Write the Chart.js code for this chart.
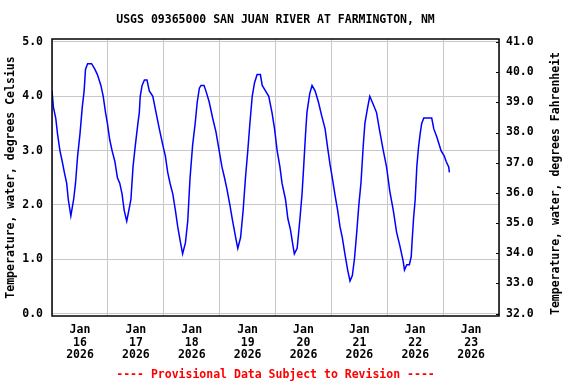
<!DOCTYPE html>
<html>
<head>
<meta charset="utf-8">
<script src="https://cdn.jsdelivr.net/npm/chart.js@4/dist/chart.umd.min.js"></script>
<style>
  html, body { margin: 0; padding: 0; background: #ffffff; }
  #wrap { width: 576px; height: 384px; }
</style>
</head>
<body>
<div id="wrap"><canvas id="tempChart" width="576" height="384"></canvas></div>
<script>
// Hours since Jan 16 2026 00:00 and water temperature (deg C)
const hours = [0.0,0.6,1.6,2.4,3.4,4.4,5.3,6.3,7.0,8.1,
  9.3,10.1,11.0,12.0,13.0,13.8,14.4,15.3,17.0,18.4,
  19.5,21.0,22.0,23.0,23.8,24.8,25.8,27.0,28.1,29.1,
  30.1,31.0,32.1,33.0,33.9,34.8,35.8,36.9,37.5,37.9,
  38.7,39.7,40.8,41.8,43.3,44.7,46.1,47.6,48.7,49.7,
  50.7,51.9,53.0,54.0,55.0,56.1,57.3,58.3,59.3,60.4,
  61.5,62.4,63.3,64.0,65.3,66.1,67.5,69.0,70.4,71.8,
  73.0,74.1,75.1,76.4,77.4,78.9,79.8,81.0,82.1,83.1,
  84.1,85.0,86.0,87.0,88.1,89.5,90.3,91.7,93.1,94.5,
  95.6,96.7,97.9,98.8,100.3,101.3,102.4,103.5,104.1,105.3,
  106.4,107.4,108.1,108.9,109.5,110.7,111.7,112.1,113.0,114.4,
  115.8,117.3,118.4,119.4,120.4,121.5,122.7,123.7,124.7,125.8,
  127.0,128.0,129.0,129.9,130.9,131.8,132.7,133.7,134.4,135.6,
  136.5,138.0,139.4,140.8,142.3,143.7,145.1,146.6,148.0,149.4,
  150.9,151.4,152.4,153.5,154.3,154.7,155.3,156.0,156.7,157.4,
  158.1,158.8,159.7,163.1,164.0,165.3,166.4,167.1,168.5,169.3,
  170.4,170.7];
const tempC = [4.1,3.8,3.6,3.3,3.0,2.8,2.6,2.4,2.1,1.8,
  2.1,2.4,2.9,3.3,3.8,4.1,4.5,4.6,4.6,4.5,
  4.4,4.2,4.0,3.7,3.5,3.2,3.0,2.8,2.5,2.4,
  2.2,1.9,1.7,1.9,2.1,2.7,3.1,3.5,3.7,4.0,
  4.2,4.3,4.3,4.1,4.0,3.7,3.4,3.1,2.9,2.6,
  2.4,2.2,1.9,1.6,1.35,1.1,1.3,1.7,2.5,3.1,
  3.5,3.9,4.15,4.2,4.2,4.1,3.9,3.6,3.35,3.0,
  2.7,2.5,2.3,2.0,1.75,1.4,1.2,1.4,1.9,2.5,
  3.0,3.5,4.0,4.25,4.4,4.4,4.2,4.1,4.0,3.7,
  3.4,3.0,2.7,2.4,2.1,1.75,1.55,1.25,1.1,1.2,
  1.7,2.2,2.7,3.3,3.7,4.05,4.2,4.2,4.1,3.9,
  3.65,3.4,3.05,2.75,2.5,2.2,1.9,1.6,1.4,1.1,
  0.8,0.6,0.7,1.0,1.5,2.0,2.4,3.1,3.5,3.8,
  4.0,3.85,3.7,3.35,3.0,2.7,2.25,1.9,1.5,1.25,
  0.95,0.8,0.9,0.9,1.05,1.35,1.75,2.1,2.7,3.05,
  3.3,3.5,3.6,3.6,3.4,3.25,3.1,3.0,2.9,2.8,
  2.7,2.6];

// Axis ticks
const dayTicks = [0, 24, 48, 72, 96, 120, 144, 168, 192]; // midnight gridlines
const dayLabels = ["16", "17", "18", "19", "20", "21", "22", "23"];
const celsiusTicks = [0, 1, 2, 3, 4, 5];
const fahrenheitTicks = [32, 33, 34, 35, 36, 37, 38, 39, 40, 41];

const titleText = "USGS 09365000 SAN JUAN RIVER AT FARMINGTON, NM";
const footerText = "---- Provisional Data Subject to Revision ----";
const rightTitle = "Temperature, water, degrees Fahrenheit";

const FONT = "'DejaVu Sans Mono', 'Liberation Mono', monospace";
const GRID = "#c8c8c8";

// small padding so the 0 and 5 gridlines sit just inside the frame
const cMin = -0.045;
const cMax = 5.055;

// frame, inward F ticks, right axis title (reads upward), title and footer
const usgsDecor = {
  id: "usgsDecor",
  afterDraw(chart) {
    const { ctx, chartArea: a } = chart;
    const y2 = chart.scales.y2;
    ctx.save();
    ctx.strokeStyle = "#000000";
    ctx.lineWidth = 1.5;
    ctx.strokeRect(a.left, a.top, a.right - a.left, a.bottom - a.top);
    ctx.lineWidth = 1;
    fahrenheitTicks.forEach((f) => {
      const py = Math.round(y2.getPixelForValue(f)) + 0.5;
      ctx.beginPath();
      ctx.moveTo(a.right - 3, py);
      ctx.lineTo(a.right, py);
      ctx.stroke();
    });
    const cx = (a.left + a.right) / 2;
    ctx.font = "bold 11.5px " + FONT;
    ctx.textAlign = "center";
    ctx.textBaseline = "middle";
    ctx.fillStyle = "#000000";
    ctx.fillText(titleText, cx, 20);

    ctx.save();
    ctx.translate(556, (a.top + a.bottom) / 2 + 6);
    ctx.rotate(-Math.PI / 2);
    ctx.fillText(rightTitle, 0, 0);
    ctx.restore();

    ctx.fillStyle = "#ff0000";
    ctx.fillText(footerText, cx, 375);
    ctx.restore();
  },
};

const ctx = document.getElementById("tempChart").getContext("2d");
new Chart(ctx, {
  type: "line",
  data: {
    datasets: [{
      data: hours.map((h, i) => ({ x: h, y: tempC[i] })),
      borderColor: "#0000ff",
      borderWidth: 1.5,
      pointRadius: 0,
      tension: 0,
      fill: false,
      yAxisID: "y",
    }],
  },
  options: {
    responsive: false,
    animation: false,
    layout: { padding: { top: 39, left: 0, right: 9, bottom: 0 } },
    plugins: {
      legend: { display: false },
      tooltip: { enabled: false },
      title: { display: false },
    },
    scales: {
      x: {
        type: "linear",
        min: 0,
        max: 192,
        afterBuildTicks: (s) => { s.ticks = dayTicks.map((v) => ({ value: v })); },
        afterFit: (s) => { s.height = 68; },
        grid: { color: GRID, drawTicks: false },
        border: { display: false },
        ticks: {
          autoSkip: false,
          maxRotation: 0,
          padding: 8,
          labelOffset: 28,
          color: "#000000",
          font: { family: FONT, size: 11.5, weight: "bold", lineHeight: 1.08 },
          callback: (v, i) => (i < dayLabels.length ? ["Jan", dayLabels[i], "2026"] : ""),
        },
      },
      y: {
        position: "left",
        min: cMin,
        max: cMax,
        afterBuildTicks: (s) => { s.ticks = celsiusTicks.map((v) => ({ value: v })); },
        afterFit: (s) => { s.width = 52; },
        grid: { color: GRID, drawTicks: false },
        border: { display: false },
        ticks: {
          padding: 9,
          color: "#000000",
          font: { family: FONT, size: 11.5, weight: "bold" },
          callback: (v) => v.toFixed(1),
        },
        title: {
          display: true,
          text: "Temperature, water, degrees Celsius",
          color: "#000000",
          font: { family: FONT, size: 11.5, weight: "bold" },
          padding: { top: 4, bottom: 0 },
        },
      },
      y2: {
        position: "right",
        min: 32 + cMin * 1.8,
        max: 32 + cMax * 1.8,
        afterBuildTicks: (s) => { s.ticks = fahrenheitTicks.map((v) => ({ value: v })); },
        afterFit: (s) => { s.width = 68; },
        grid: { drawOnChartArea: false, drawTicks: false },
        border: { display: false },
        ticks: {
          padding: 7,
          color: "#000000",
          font: { family: FONT, size: 11.5, weight: "bold" },
          callback: (v) => v.toFixed(1),
        },
      },
    },
  },
  plugins: [usgsDecor],
});
</script>
</body>
</html>
